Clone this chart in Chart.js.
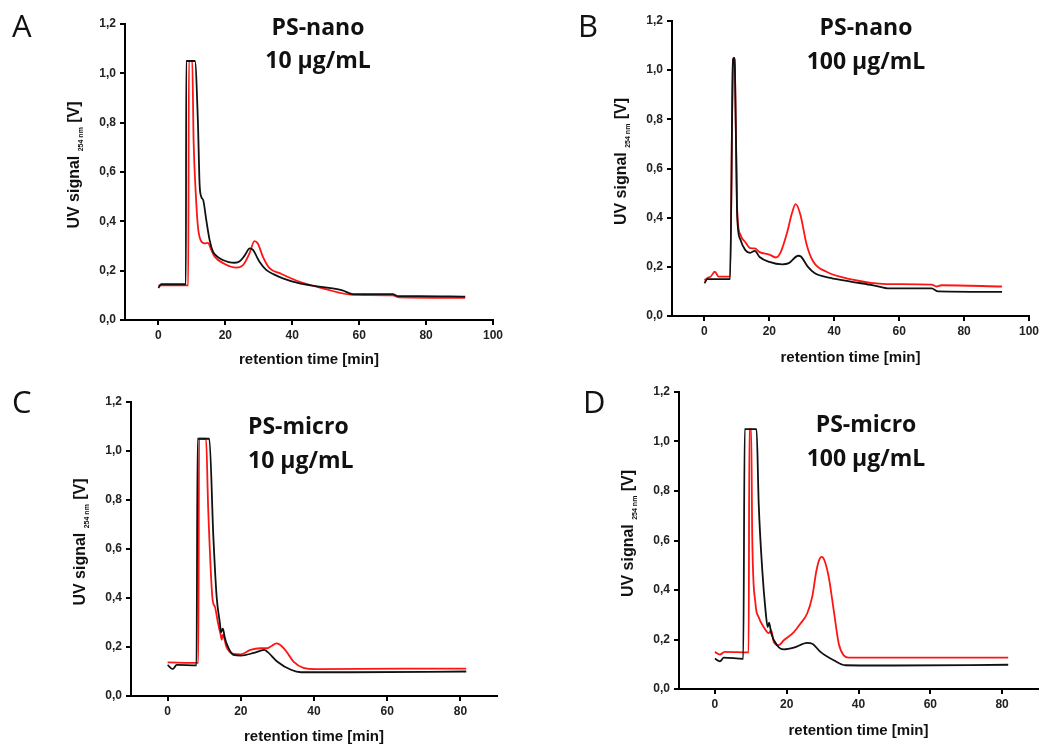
<!DOCTYPE html>
<html>
<head>
<meta charset="utf-8">
<script src="https://cdn.jsdelivr.net/npm/chart.js@4.4.1/dist/chart.umd.min.js"></script>
<style>
  html, body { margin: 0; padding: 0; background: #fff; }
  #page { position: relative; width: 1057px; height: 747px; }
  .panel { position: absolute; }
</style>
</head>
<body>
<div id="page">
  <div class="panel" style="left:0;top:0;width:520px;height:370px"><canvas id="chartA"></canvas></div>
  <div class="panel" style="left:520px;top:0;width:537px;height:370px"><canvas id="chartB"></canvas></div>
  <div class="panel" style="left:0;top:370px;width:520px;height:377px"><canvas id="chartC"></canvas></div>
  <div class="panel" style="left:520px;top:370px;width:537px;height:377px"><canvas id="chartD"></canvas></div>
</div>
<script>
// axis ticks
const yTicks = [0, 0.2, 0.4, 0.6, 0.8, 1.0, 1.2];
const xTicksLong = [0, 20, 40, 60, 80, 100];
const xTicksShort = [0, 20, 40, 60, 80];

// A: PS-nano 10 µg/mL
const aBlackT = [0, 0.8, 8.2, 8.3, 10.9, 11.8, 12.3, 12.8, 13.4, 14.3, 15.3, 16.3, 17.5, 19.2, 21, 22.8, 24.3, 25.8, 27.3, 28.2, 30.2, 32.2, 34.5, 37.2, 42.2, 47, 52.1, 55, 58.2, 70, 71.5, 78, 91.7];
const aBlackV = [0.13, 0.145, 0.145, 1.05, 1.05, 0.80, 0.55, 0.50, 0.485, 0.405, 0.324, 0.277, 0.258, 0.243, 0.235, 0.232, 0.238, 0.262, 0.29, 0.285, 0.236, 0.203, 0.185, 0.169, 0.148, 0.137, 0.128, 0.12, 0.105, 0.105, 0.097, 0.097, 0.095];
const aRedT = [0, 8.9, 9.1, 10.1, 10.5, 11.1, 11.8, 12.6, 13.8, 14.8, 15.8, 16.8, 19.8, 23.3, 25.3, 27.2, 28.7, 29.7, 31.2, 33.2, 36.2, 42.2, 50, 58, 70, 72, 91.7];
const aRedV = [0.14, 0.14, 1.05, 1.05, 0.73, 0.527, 0.378, 0.324, 0.311, 0.313, 0.284, 0.257, 0.227, 0.212, 0.223, 0.27, 0.32, 0.31, 0.257, 0.21, 0.19, 0.155, 0.125, 0.102, 0.1, 0.092, 0.09];

// B: PS-nano 100 µg/mL
const bBlackT = [0, 0.9, 7.9, 8.8, 9.1, 9.4, 10.0, 10.3, 11.1, 12.6, 14.1, 15.5, 17, 20, 24, 26, 28.9, 29.7, 31.9, 33.9, 38.8, 45, 52, 57, 70, 72, 91.7];
const bBlackV = [0.133, 0.15, 0.15, 1.04, 1.05, 1.0, 0.45, 0.36, 0.31, 0.268, 0.257, 0.265, 0.24, 0.22, 0.21, 0.215, 0.245, 0.242, 0.2, 0.175, 0.155, 0.14, 0.125, 0.112, 0.112, 0.10, 0.098];
const bRedT = [0, 1, 1.9, 3.2, 4.4, 7.9, 8.8, 9.1, 9.4, 10.0, 10.3, 11.1, 12.6, 14.1, 15.5, 17, 20, 22, 23.5, 25.4, 27, 28.1, 29.5, 31.5, 33.5, 37.6, 45.7, 56, 70, 71.5, 73, 91.7];
const bRedV = [0.145, 0.155, 0.16, 0.18, 0.16, 0.16, 1.04, 1.05, 1.0, 0.47, 0.38, 0.33, 0.3, 0.276, 0.275, 0.26, 0.25, 0.238, 0.26, 0.336, 0.42, 0.455, 0.415, 0.29, 0.222, 0.18, 0.148, 0.13, 0.128, 0.12, 0.125, 0.12];

// C: PS-micro 10 µg/mL
const cBlackT = [0, 1.4, 2.5, 7.9, 8.2, 11.4, 12.5, 13.4, 14.3, 14.6, 15.1, 15.6, 16.1, 18, 20, 23.6, 26.4, 27.3, 30, 33.7, 36.5, 50, 81.6];
const cBlackV = [0.127, 0.11, 0.127, 0.125, 1.05, 1.05, 0.65, 0.405, 0.296, 0.26, 0.275, 0.24, 0.215, 0.168, 0.165, 0.176, 0.188, 0.18, 0.14, 0.107, 0.097, 0.097, 0.1];
const cRedT = [0, 8.4, 8.6, 10.5, 11.1, 12.3, 12.9, 13.8, 14.5, 14.8, 15.1, 16.1, 18, 20, 22.6, 25.3, 27.2, 28.5, 29.7, 30.6, 31.7, 33, 34.4, 37.1, 40.7, 65, 81.6];
const cRedV = [0.137, 0.135, 1.05, 1.05, 0.76, 0.392, 0.365, 0.296, 0.25, 0.23, 0.25, 0.2, 0.172, 0.17, 0.188, 0.195, 0.195, 0.205, 0.215, 0.21, 0.195, 0.17, 0.14, 0.115, 0.11, 0.112, 0.112];

// D: PS-micro 100 µg/mL
const dBlackT = [0, 1.4, 2.5, 7.9, 8.3, 11.6, 12.2, 13.2, 14.1, 14.7, 15.1, 15.7, 17.3, 19.2, 22, 25.7, 27.1, 29.4, 33.1, 36.3, 50, 81.7];
const dBlackV = [0.123, 0.112, 0.127, 0.122, 1.05, 1.05, 0.75, 0.48, 0.318, 0.25, 0.268, 0.224, 0.177, 0.16, 0.167, 0.186, 0.183, 0.15, 0.116, 0.096, 0.095, 0.098];
const dRedT = [0, 1.4, 2.7, 9.4, 9.6, 10.1, 10.4, 11.3, 12.2, 13.6, 15, 15.7, 16.4, 17.8, 19.2, 22, 23.8, 25.7, 27.1, 28.3, 29.2, 29.8, 30.5, 31.7, 33.1, 34.5, 35.9, 37.3, 81.7];
const dRedV = [0.15, 0.139, 0.15, 0.148, 1.05, 1.05, 0.615, 0.345, 0.29, 0.25, 0.226, 0.237, 0.19, 0.177, 0.197, 0.23, 0.264, 0.305, 0.372, 0.48, 0.527, 0.534, 0.52, 0.453, 0.318, 0.183, 0.136, 0.127, 0.127];

Chart.defaults.font.family = '"Liberation Sans", Arial, sans-serif';
Chart.defaults.color = '#111';

const toPoints = (ts, vs) => ts.map((t, i) => ({ x: t, y: vs[i] }));

// panel letter, big title and the y-axis title with its subscript
const panelDecor = {
  id: 'panelDecor',
  afterDraw(chart, args, opts) {
    const { ctx, chartArea } = chart;
    ctx.save();
    ctx.fillStyle = '#111';
    ctx.textBaseline = 'middle';
    ctx.textAlign = 'left';
    ctx.font = '31px "Open Sans", sans-serif';
    ctx.fillText(opts.letter, opts.letterX, opts.letterY);

    ctx.font = 'bold 23px "Open Sans", sans-serif';
    ctx.textAlign = opts.titleAlign;
    opts.title.forEach((line, i) => ctx.fillText(line, opts.titleX, opts.titleY[i]));

    // UV signal 254nm [V]
    const mainFont = 'bold 16px "Liberation Sans", Arial, sans-serif';
    const subFont = 'bold 7px "Liberation Sans", Arial, sans-serif';
    const p1 = 'UV signal ', p2 = '254 nm', p3 = ' [V]';
    ctx.font = mainFont;
    const w1 = ctx.measureText(p1).width, w3 = ctx.measureText(p3).width;
    ctx.font = subFont;
    const w2 = ctx.measureText(p2).width;
    const total = w1 + w2 + w3;
    ctx.translate(chartArea.left - 52, (chartArea.top + chartArea.bottom) / 2 - 7);
    ctx.rotate(-Math.PI / 2);
    ctx.textAlign = 'left';
    ctx.textBaseline = 'alphabetic';
    let x = -total / 2;
    ctx.font = mainFont;
    ctx.fillText(p1, x, 6);
    x += w1;
    ctx.font = subFont;
    ctx.fillText(p2, x, 10);
    x += w2;
    ctx.font = mainFont;
    ctx.fillText(p3, x, 6);
    ctx.restore();
  }
};

function makeChart(id, cfg) {
  const ctx = document.getElementById(id).getContext('2d');
  return new Chart(ctx, {
    type: 'line',
    data: {
      datasets: [
        {
          label: 'black',
          data: toPoints(cfg.blackT, cfg.blackV),
          borderColor: '#111111',
          borderWidth: 1.8,
        },
        {
          label: 'red',
          data: toPoints(cfg.redT, cfg.redV),
          borderColor: '#ff1414',
          borderWidth: 1.8,
        },
      ],
    },
    options: {
      responsive: true,
      maintainAspectRatio: false,
      animation: false,
      events: [],
      layout: { padding: cfg.padding },
      elements: {
        point: { radius: 0 },
        line: { cubicInterpolationMode: 'monotone', fill: false },
      },
      plugins: {
        legend: { display: false },
        tooltip: { enabled: false },
        panelDecor: cfg.decor,
      },
      scales: {
        x: {
          type: 'linear',
          min: -10,
          max: cfg.xMax,
          afterBuildTicks: s => { s.ticks = cfg.xTicks.map(v => ({ value: v })); },
          afterFit: s => { s.height = cfg.xH; },
          border: { display: true, color: '#000', width: 2 },
          grid: { drawOnChartArea: false, drawTicks: true, tickLength: 5, color: '#000', lineWidth: 2 },
          ticks: { font: { size: 12, weight: 'bold' }, color: '#222', padding: 3, maxRotation: 0, autoSkip: false },
          title: {
            display: true,
            text: 'retention time [min]',
            font: { size: 15, weight: 'bold' },
            color: '#111',
            padding: { top: 2, bottom: cfg.xTitlePad },
          },
        },
        y: {
          min: 0,
          max: 1.2,
          afterBuildTicks: s => { s.ticks = yTicks.map(v => ({ value: v })); },
          afterFit: s => { s.width = cfg.yW; },
          border: { display: true, color: '#000', width: 2 },
          grid: { drawOnChartArea: false, drawTicks: true, tickLength: 5, color: '#000', lineWidth: 2 },
          ticks: {
            font: { size: 12, weight: 'bold' },
            color: '#222',
            padding: 4,
            callback: v => v.toFixed(1).replace('.', ','),
          },
        },
      },
    },
    plugins: [panelDecor],
  });
}

makeChart('chartA', {
  blackT: aBlackT, blackV: aBlackV, redT: aRedT, redV: aRedV,
  xMax: 100, xTicks: xTicksLong, xH: 50, yW: 125, xTitlePad: 1,
  padding: { left: 0, top: 24, right: 27, bottom: 0 },
  decor: { letter: 'A', letterX: 12, letterY: 28, title: ['PS-nano', '10 µg/mL'], titleAlign: 'center', titleX: 318, titleY: [28, 61] },
});

makeChart('chartB', {
  blackT: bBlackT, blackV: bBlackV, redT: bRedT, redV: bRedV,
  xMax: 100, xTicks: xTicksLong, xH: 54, yW: 152, xTitlePad: 3,
  padding: { left: 0, top: 21, right: 28, bottom: 0 },
  decor: { letter: 'B', letterX: 58, letterY: 28, title: ['PS-nano', '100 µg/mL'], titleAlign: 'center', titleX: 346, titleY: [28, 62] },
});

makeChart('chartC', {
  blackT: cBlackT, blackV: cBlackV, redT: cRedT, redV: cRedV,
  xMax: 90, xTicks: xTicksShort, xH: 51, yW: 131, xTitlePad: 1,
  padding: { left: 0, top: 32, right: 23, bottom: 0 },
  decor: { letter: 'C', letterX: 12, letterY: 34, title: ['PS-micro', '10 µg/mL'], titleAlign: 'left', titleX: 248, titleY: [57, 91] },
});

makeChart('chartD', {
  blackT: dBlackT, blackV: dBlackV, redT: dRedT, redV: dRedV,
  xMax: 90, xTicks: xTicksShort, xH: 58, yW: 159, xTitlePad: 7,
  padding: { left: 0, top: 22, right: 19, bottom: 0 },
  decor: { letter: 'D', letterX: 63, letterY: 34, title: ['PS-micro', '100 µg/mL'], titleAlign: 'center', titleX: 346, titleY: [55, 89] },
});
</script>
</body>
</html>
